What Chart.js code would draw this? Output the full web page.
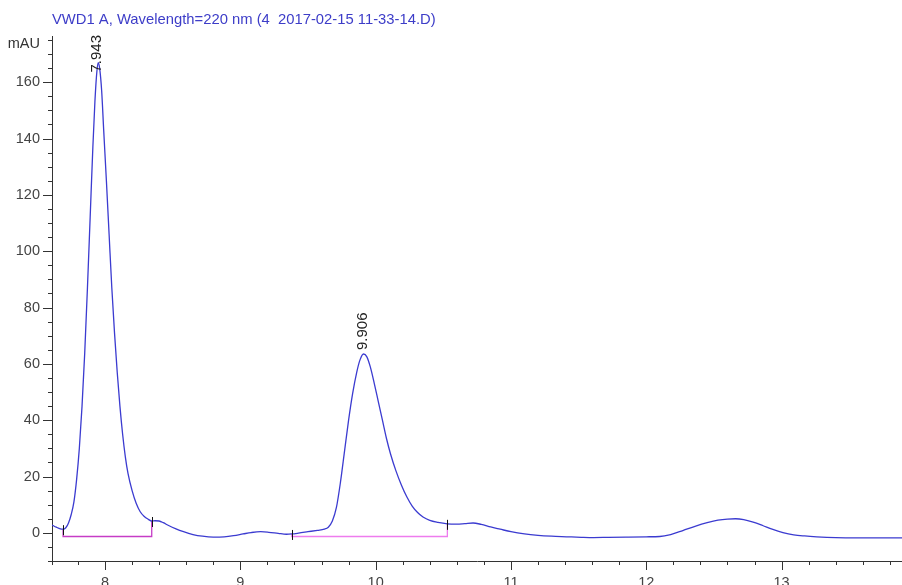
<!DOCTYPE html>
<html>
<head>
<meta charset="utf-8">
<script src="https://cdn.jsdelivr.net/npm/chart.js@4.4.3/dist/chart.umd.min.js"></script>
<style>
  html, body { margin: 0; padding: 0; background: #fff; }
  #wrap { position: relative; width: 902px; height: 585px; }
</style>
</head>
<body>
<div id="wrap"><canvas id="chrom" width="902" height="585"></canvas></div>
<script>
const TITLE = "VWD1 A, Wavelength=220 nm (4  2017-02-15 11-33-14.D)";
const Y_UNIT = "mAU";

const times = [
  7.608, 7.64, 7.67, 7.69, 7.71, 7.73, 7.75, 7.77, 7.79, 7.81, 7.83, 7.85, 7.87, 7.89,
  7.91, 7.925, 7.94, 7.95, 7.96, 7.975, 7.99, 8.01, 8.03, 8.05, 8.07, 8.09, 8.11, 8.13,
  8.15, 8.17, 8.2, 8.23, 8.26, 8.29, 8.32, 8.345, 8.37, 8.4, 8.43, 8.47, 8.52, 8.58,
  8.65, 8.72, 8.8, 8.88, 8.95, 9.02, 9.08, 9.15, 9.21, 9.28, 9.34, 9.38, 9.43, 9.5,
  9.57, 9.62, 9.65, 9.68, 9.71, 9.74, 9.77, 9.8, 9.83, 9.86, 9.885, 9.91, 9.935, 9.96,
  9.99, 10.02, 10.05, 10.08, 10.11, 10.15, 10.19, 10.23, 10.27, 10.31, 10.35, 10.4,
  10.46, 10.53, 10.6, 10.66, 10.72, 10.78, 10.85, 10.92, 11.0, 11.1, 11.2, 11.3, 11.41,
  11.52, 11.61, 11.72, 11.85, 12.0, 12.1, 12.18, 12.27, 12.36, 12.45, 12.53, 12.6,
  12.66, 12.72, 12.79, 12.86, 12.93, 13.01, 13.09, 13.17, 13.26, 13.4, 13.55, 13.7, 13.89
];
const signal = [
  2.8, 2.0, 1.4, 1.3, 1.8, 3.5, 6.5, 11, 19, 30, 45, 64, 87, 112,
  137, 153, 164, 167, 165, 157, 143, 125, 106, 87, 71, 57, 45, 35,
  27, 21, 15, 10.5, 7.5, 5.8, 4.8, 4.2, 4.3, 4.2, 3.6, 2.6, 1.5, 0.4,
  -0.6, -1.2, -1.5, -1.4, -1.0, -0.4, 0.1, 0.4, 0.2, -0.2, -0.5, -0.4, -0.1, 0.4,
  0.9, 1.3, 2.0, 4.2, 9, 18, 29, 40, 49.5, 57, 61.5, 63.5, 62.5, 59,
  53, 46.5, 40, 33.5, 28, 22, 17, 12.8, 9.5, 7.2, 5.6, 4.4,
  3.7, 3.2, 3.1, 3.3, 3.5, 3.0, 2.1, 1.3, 0.4, -0.4, -0.9, -1.2, -1.4,
  -1.6, -1.7, -1.6, -1.5, -1.4, -1.3, -0.6, 0.8, 2.3, 3.6, 4.5, 4.9,
  5.0, 4.7, 3.8, 2.6, 1.3, 0.1, -0.7, -1.1, -1.4, -1.7, -1.8, -1.8, -1.8
];

// pics intégrés
const peakTimes = [7.943, 9.906];
const peakHeights = [167, 63.5];
const peakLabels = ["7.943", "9.906"];

// lignes de base (début/fin, niveau, signal aux bornes)
const baseStart = [7.69, 9.38];
const baseEnd = [8.345, 10.53];
const baseLevel = [-1.3, -1.3];
const baseSigStart = [1.3, -0.4];
const baseSigEnd = [4.2, 3.2];
const baseColors = ["#c63cc6", "#ee7cee"];

const xTickLabels = [8, 9, 10, 11, 12, 13];
const yTickLabels = [0, 20, 40, 60, 80, 100, 120, 140, 160];
const X_MIN = 7.608, X_MAX = 13.89;
const Y_MIN = -10, Y_MAX = 175;

const AXIS = "#333";
const FONT = "Liberation Sans, Arial, sans-serif";

const datasets = [
  {
    data: times.map((t, i) => ({ x: t, y: signal[i] })),
    borderColor: "#3b3bd0",
    borderWidth: 1.3,
    pointRadius: 0,
    cubicInterpolationMode: "monotone",
    order: 1,
  },
];
baseStart.forEach((s, i) => {
  datasets.push({
    data: [
      { x: s, y: baseSigStart[i] },
      { x: s, y: baseLevel[i] },
      { x: baseEnd[i], y: baseLevel[i] },
      { x: baseEnd[i], y: baseSigEnd[i] },
    ],
    borderColor: baseColors[i],
    borderWidth: 1.3,
    pointRadius: 0,
    tension: 0,
    order: 2,
  });
});

// ticks, titre, étiquettes de pics
const decor = {
  id: "decor",
  afterDraw(chart) {
    const { ctx, chartArea: a } = chart;
    const xs = chart.scales.x, ys = chart.scales.y;
    ctx.save();
    ctx.strokeStyle = AXIS;
    ctx.lineWidth = 1;
    ctx.beginPath();
    // y minor/major
    for (let v = Y_MIN; v <= Y_MAX; v += 5) {
      const y = Math.round(ys.getPixelForValue(v)) + 0.5;
      const len = yTickLabels.includes(v) ? 9 : 4;
      ctx.moveTo(a.left - len, y);
      ctx.lineTo(a.left, y);
    }
    // x minor/major
    for (let k = 0; k <= 35; k++) {
      const v = 7.8 + k * 0.2;
      if (v > X_MAX) break;
      const x = Math.round(xs.getPixelForValue(v)) + 0.5;
      const len = xTickLabels.some((m) => Math.abs(m - v) < 1e-6) ? 9 : 4;
      ctx.moveTo(x, a.bottom);
      ctx.lineTo(x, a.bottom + len);
    }
    ctx.moveTo(a.left + 0.5, a.bottom);
    ctx.lineTo(a.left + 0.5, a.bottom + 4);
    // prolongement de l'axe y au-dessus du dernier tick
    ctx.moveTo(a.left + 0.5, a.top);
    ctx.lineTo(a.left + 0.5, a.top - 4);
    ctx.stroke();

    // marques noires des bornes d'intégration
    ctx.strokeStyle = "#111";
    ctx.beginPath();
    const marks = [
      [baseStart, baseSigStart],
      [baseEnd, baseSigEnd],
    ];
    marks.forEach(([tt, ss]) => {
      tt.forEach((t, i) => {
        const x = Math.round(xs.getPixelForValue(t)) + 0.5;
        const y = ys.getPixelForValue(ss[i]);
        ctx.moveTo(x, y - 4);
        ctx.lineTo(x, y + 6);
      });
    });
    ctx.stroke();

    // titre
    ctx.fillStyle = "#3d3dc8";
    ctx.font = "14.8px " + FONT;
    ctx.textBaseline = "middle";
    ctx.textAlign = "left";
    ctx.fillText(TITLE, 52, 20);

    // unité de l'axe y
    ctx.fillStyle = "#333";
    ctx.font = "14.5px " + FONT;
    ctx.textAlign = "right";
    ctx.fillText(Y_UNIT, 40, ys.getPixelForValue(Y_MAX) + 4);

    // étiquettes des pics (verticales)
    ctx.fillStyle = "#222";
    ctx.font = "15px " + FONT;
    peakTimes.forEach((t, i) => {
      const x = xs.getPixelForValue(t);
      const w = ctx.measureText(peakLabels[i]).width;
      let bottom = ys.getPixelForValue(peakHeights[i]) - 4;
      bottom = Math.max(bottom, a.top - 5 + w);
      ctx.save();
      ctx.translate(x, bottom);
      ctx.rotate(-Math.PI / 2);
      ctx.textAlign = "left";
      ctx.textBaseline = "middle";
      ctx.fillText(peakLabels[i], 0, 0);
      ctx.restore();
    });
    ctx.restore();
  },
};

new Chart(document.getElementById("chrom"), {
  type: "line",
  data: { datasets },
  options: {
    responsive: false,
    animation: false,
    devicePixelRatio: 1,
    layout: { padding: { top: 40, right: 0, left: 0, bottom: 0 } },
    plugins: { legend: { display: false }, tooltip: { enabled: false } },
    scales: {
      x: {
        type: "linear",
        min: X_MIN,
        max: X_MAX,
        afterBuildTicks: (s) => { s.ticks = xTickLabels.map((v) => ({ value: v })); },
        afterFit: (s) => { s.height = 24; },
        grid: { display: false, drawTicks: false },
        border: { display: true, color: AXIS, width: 1 },
        ticks: {
          padding: 13,
          color: "#444",
          font: { family: FONT, size: 14.5 },
          maxRotation: 0,
          autoSkip: false,
          callback: (v) => String(v),
        },
      },
      y: {
        type: "linear",
        min: Y_MIN,
        max: Y_MAX,
        afterBuildTicks: (s) => { s.ticks = yTickLabels.map((v) => ({ value: v })); },
        afterFit: (s) => { s.width = 52; },
        grid: { display: false, drawTicks: false },
        border: { display: true, color: AXIS, width: 1 },
        ticks: {
          padding: 12,
          color: "#444",
          font: { family: FONT, size: 14.5 },
          autoSkip: false,
          callback: (v) => String(v),
        },
      },
    },
  },
  plugins: [decor],
});
</script>
</body>
</html>
